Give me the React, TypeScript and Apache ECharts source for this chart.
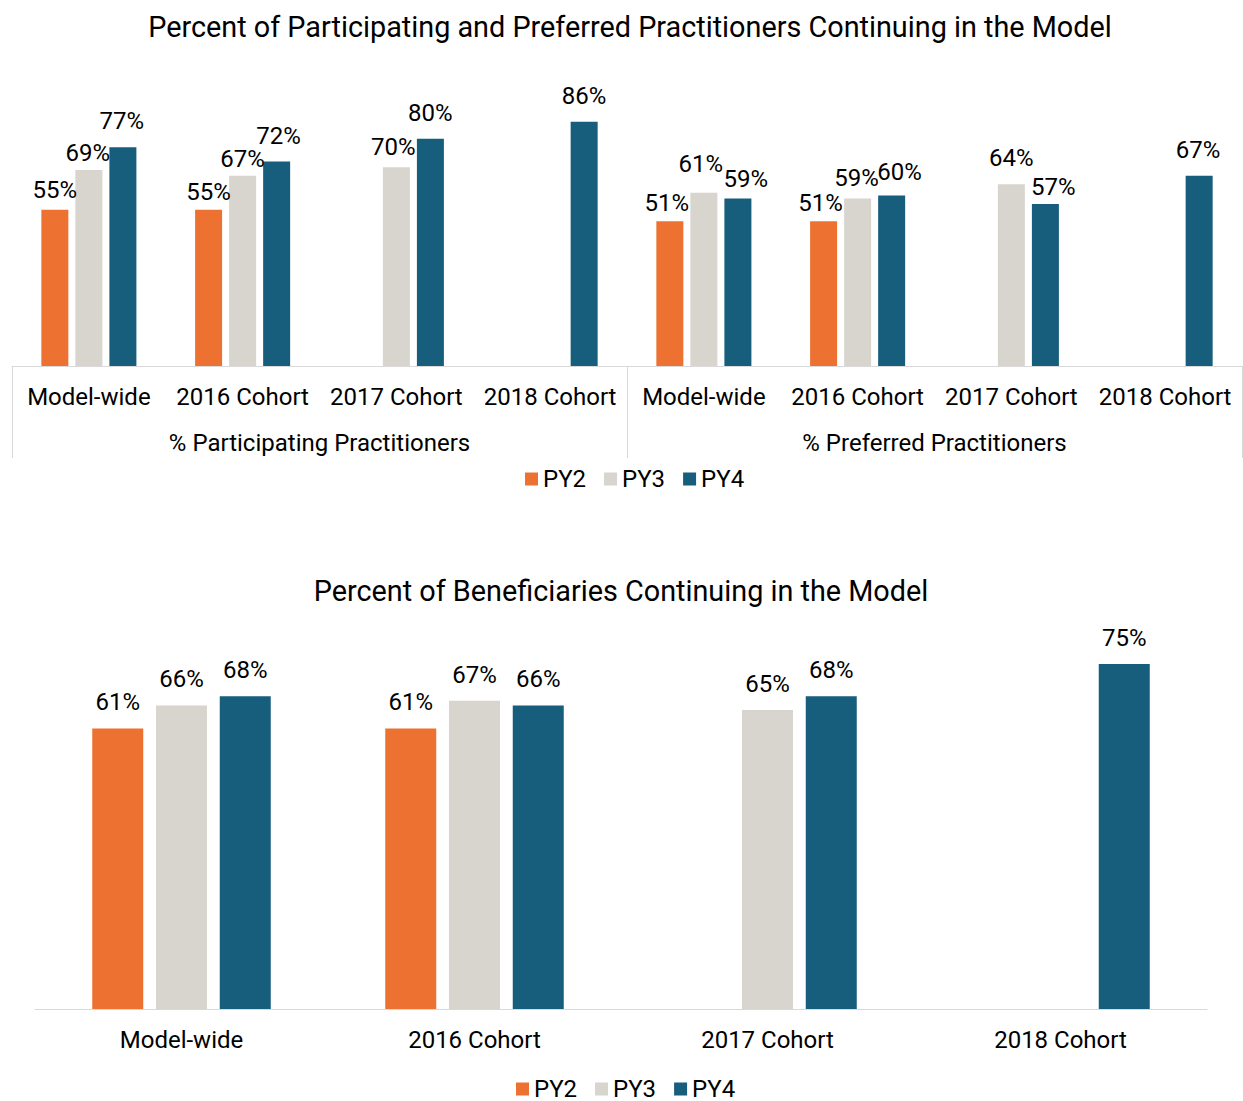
import React, { useEffect, useRef } from 'react';
import * as echarts from 'echarts';

const seriesNames = ['PY2', 'PY3', 'PY4'];
const seriesColors = ['#ED7232', '#D8D4CE', '#175D7C'];

const topTitle = 'Percent of Participating and Preferred Practitioners Continuing in the Model';
const topCategories = ['Model-wide', '2016 Cohort', '2017 Cohort', '2018 Cohort', 'Model-wide', '2016 Cohort', '2017 Cohort', '2018 Cohort'];
const topGroups = ['% Participating Practitioners', '% Preferred Practitioners'];
const topPY2 = [55, 55, null, null, 51, 51, null, null];
const topPY3 = [69, 67, 70, null, 61, 59, 64, null];
const topPY4 = [77, 72, 80, 86, 59, 60, 57, 67];

const bottomTitle = 'Percent of Beneficiaries Continuing in the Model';
const bottomCategories = ['Model-wide', '2016 Cohort', '2017 Cohort', '2018 Cohort'];
const bottomPY2 = [61, 61, null, null];
const bottomPY3 = [66, 67, 65, null];
const bottomPY4 = [68, 66, 68, 75];

// label nudges [dx, dy] (style only) for the top chart, where the original labels were hand-placed
const topLabelNudge: number[][][] = [
  [[0, 6], [0, 8], [0, 0], [0, 0], [-3, 8], [-3, 8], [0, 0], [0, 0]],
  [[-1, 9], [0, 9], [-3, 6], [0, 0], [-3, -3], [-1, 6], [0, 0], [0, 0]],
  [[-1, 0], [2, 0], [0, 0], [0, 0], [8, 7], [8, 2], [8, 9], [-1, 0]],
];

const FONT = 'Roboto';
const AXIS_GRAY = '#D9D9D9';
const TEXT = '#000';

export default function App() {
  const ref = useRef<HTMLDivElement>(null);
  useEffect(() => {
    if (!ref.current) return;
    const chart = echarts.init(ref.current, undefined, { renderer: 'svg' });
    const topData = [topPY2, topPY3, topPY4];
    const bottomData = [bottomPY2, bottomPY3, bottomPY4];
    const labelBase = {
      show: true,
      position: 'top',
      distance: 14,
      formatter: '{c}%',
      fontSize: 24,
      color: TEXT,
      fontFamily: FONT,
    };
    const legendBase = {
      data: seriesNames,
      padding: 0,
      itemWidth: 13,
      itemHeight: 13,
      itemGap: 18,
      icon: 'rect',
      textStyle: { fontSize: 24, color: TEXT, fontFamily: FONT },
    };
    const axisLabelBase = { fontSize: 24, color: TEXT, fontFamily: FONT, interval: 0 };
    const option: any = {
      animation: false,
      backgroundColor: '#fff',
      textStyle: { fontFamily: FONT },
      title: [
        {
          text: topTitle,
          left: 625,
          top: 7,
          textAlign: 'center',
          textStyle: { fontSize: 28.8, fontWeight: 'normal', color: TEXT, fontFamily: FONT },
        },
        {
          text: bottomTitle,
          left: 616,
          top: 571,
          textAlign: 'center',
          textStyle: { fontSize: 28.8, fontWeight: 'normal', color: TEXT, fontFamily: FONT },
        },
      ],
      legend: [
        { ...legendBase, left: 525, top: 467 },
        { ...legendBase, left: 516, top: 1077 },
      ],
      grid: [
        { left: 12, right: 1, top: 82, height: 284, containLabel: false },
        { left: 35, right: 36, top: 641, height: 368, containLabel: false },
      ],
      xAxis: [
        {
          type: 'category',
          gridIndex: 0,
          data: topCategories,
          axisLine: { show: true, lineStyle: { color: AXIS_GRAY, width: 1 } },
          axisTick: { show: false },
          axisLabel: { ...axisLabelBase, margin: 19 },
        },
        {
          type: 'category',
          gridIndex: 0,
          data: topGroups,
          position: 'bottom',
          axisLine: { show: false },
          axisTick: { show: true, length: 92, lineStyle: { color: AXIS_GRAY, width: 1 } },
          axisLabel: { ...axisLabelBase, margin: 65 },
        },
        {
          type: 'category',
          gridIndex: 1,
          data: bottomCategories,
          axisLine: { show: true, lineStyle: { color: AXIS_GRAY, width: 1 } },
          axisTick: { show: false },
          axisLabel: { ...axisLabelBase, margin: 19 },
        },
      ],
      yAxis: [
        { type: 'value', gridIndex: 0, min: 0, max: 100, show: false, splitLine: { show: false } },
        { type: 'value', gridIndex: 1, min: 0, max: 80, show: false, splitLine: { show: false } },
      ],
      series: [
        ...seriesNames.map((name, i) => ({
          name,
          type: 'bar',
          xAxisIndex: 0,
          yAxisIndex: 0,
          data: topData[i].map((v, j) =>
            v == null ? null : { value: v, label: { offset: topLabelNudge[i][j] } }
          ),
          barWidth: 27,
          barGap: '26%',
          itemStyle: { color: seriesColors[i] },
          label: labelBase,
        })),
        ...seriesNames.map((name, i) => ({
          name,
          type: 'bar',
          xAxisIndex: 2,
          yAxisIndex: 1,
          data: bottomData[i],
          barWidth: 51,
          barGap: '25%',
          itemStyle: { color: seriesColors[i] },
          label: labelBase,
        })),
      ],
    };
    chart.setOption(option);
    return () => chart.dispose();
  }, []);
  return (
    <div
      ref={ref}
      style={{ position: 'fixed', left: 0, top: 0, width: 1243, height: 1101 }}
    />
  );
}
